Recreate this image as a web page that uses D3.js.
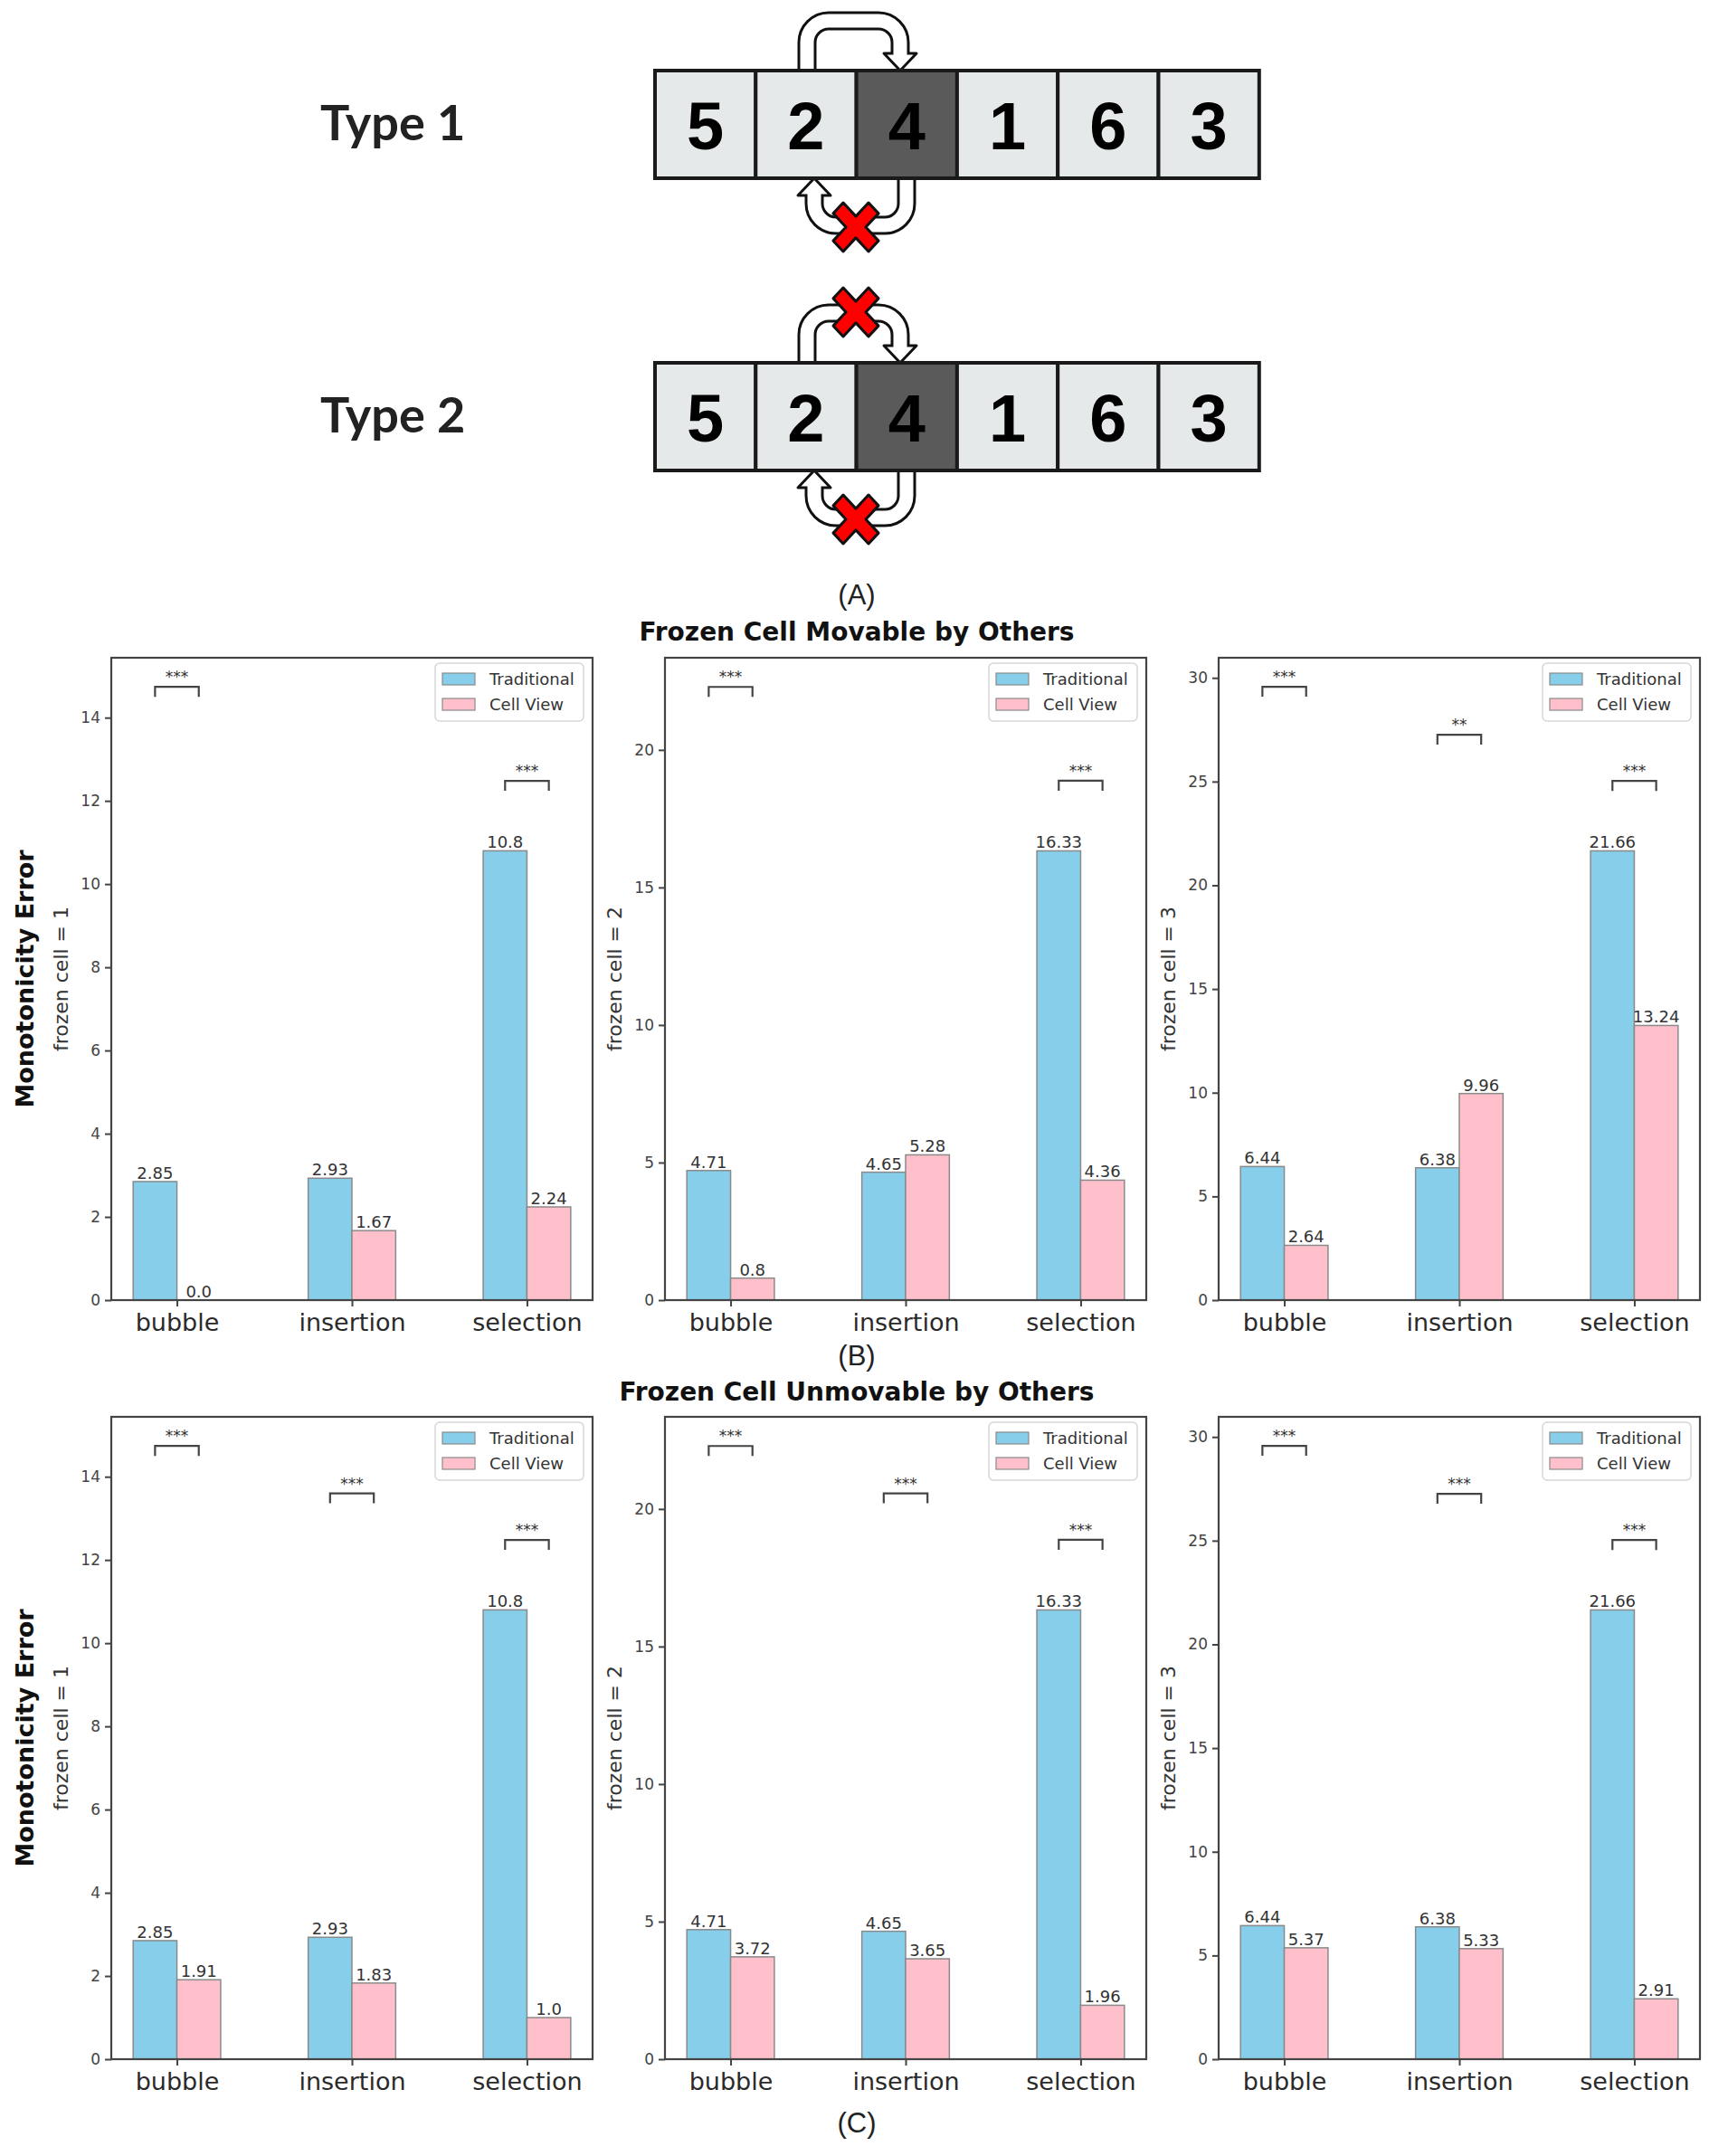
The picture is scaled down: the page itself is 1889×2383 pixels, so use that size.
<!DOCTYPE html>
<html>
<head>
<meta charset="utf-8">
<script src="https://cdn.jsdelivr.net/npm/d3@7"></script>
<style>
  body { margin: 0; background: #fff; }
  svg { display: block; }
</style>
</head>
<body>
<div id="chart"></div>
<script>
// ---- data ----
const categories = ['bubble', 'insertion', 'selection'];
const seriesNames = ['Traditional', 'Cell View'];
const seriesColors = ['#87CEEB', '#FFC0CB'];
const frozenLabels = ['frozen cell = 1', 'frozen cell = 2', 'frozen cell = 3'];

// one row per frozen cell count, one value per category
const traditional = [[2.85, 2.93, 10.8], [4.71, 4.65, 16.33], [6.44, 6.38, 21.66]];
const cellViewMovable = [[0.0, 1.67, 2.24], [0.8, 5.28, 4.36], [2.64, 9.96, 13.24]];
const cellViewUnmovable = [[1.91, 1.83, 1.0], [3.72, 3.65, 1.96], [5.37, 5.33, 2.91]];

const sigMovable = [['***', '', '***'], ['***', '', '***'], ['***', '**', '***']];
const sigUnmovable = [['***', '***', '***'], ['***', '***', '***'], ['***', '***', '***']];
const bracketMovable = [[14.74, null, 12.48], [22.29, null, 18.88], [29.57, 27.26, 25.03]];
const bracketUnmovable = [[14.74, 13.6, 12.48], [22.29, 20.57, 18.88], [29.57, 27.26, 25.03]];

const yMax = [15.44, 23.35, 30.97];
const yTicks = [[0, 2, 4, 6, 8, 10, 12, 14], [0, 5, 10, 15, 20], [0, 5, 10, 15, 20, 25, 30]];

const arrayValues = [5, 2, 4, 1, 6, 3];
const frozenIndex = 2;

// ---- page ----
const W = 1889, H = 2383;
const svg = d3.select('#chart').append('svg').attr('width', W).attr('height', H);

// ---------- (A) diagram ----------
const cellW = 111.3, boxX = 724, boxH = 119;

function arrowBand(g, d, tipX, tipY, dir) {
  // hollow arrow: black band, head, then white band on top
  g.append('path').attr('d', d).attr('fill', 'none')
    .attr('stroke', '#111').attr('stroke-width', 21);
  const hw = 18, hh = 19;
  const head = [[tipX, tipY], [tipX - hw, tipY - dir * hh], [tipX + hw, tipY - dir * hh]];
  g.append('polygon').attr('points', head.map(p => p.join(',')).join(' '))
    .attr('fill', '#fff').attr('stroke', '#111').attr('stroke-width', 3).attr('stroke-linejoin', 'round');
  g.append('path').attr('d', d).attr('fill', 'none')
    .attr('stroke', '#fff').attr('stroke-width', 15);
}

function redX(g, cx, cy) {
  const s = 25, h = 11;
  const pts = [[0, -h], [s - h, -s], [s, -s + h], [h, 0], [s, s - h], [s - h, s],
    [0, h], [-s + h, s], [-s, s - h], [-h, 0], [-s, -s + h], [-s + h, -s]];
  g.append('polygon')
    .attr('points', pts.map(p => [cx + p[0], cy + p[1] * 1.08].join(',')).join(' '))
    .attr('fill', '#ff0000').attr('stroke', '#111').attr('stroke-width', 3).attr('stroke-linejoin', 'round');
}

function drawRow(label, top, blockTop) {
  const g = svg.append('g');
  g.append('text').attr('x', 354).attr('y', top + 77)
    .style('font-family', 'Lato').style('font-weight', 700).style('font-size', '54px')
    .style('fill', '#222').text(label);

  const bottom = top + boxH;
  const xL = 892, xR = 995, r = 24;

  // top arrow (2 -> 4)
  const topY = top - 55;
  const p1 = d3.path();
  p1.moveTo(xL, top);
  p1.lineTo(xL, topY + r);
  p1.arcTo(xL, topY, xL + r, topY, r);
  p1.lineTo(xR - r, topY);
  p1.arcTo(xR, topY, xR, topY + r, r);
  p1.lineTo(xR, top - 17);
  arrowBand(g, p1.toString(), xR, top, 1);

  // bottom arrow (4 -> 2)
  const botY = bottom + 52;
  const bl = 900, br = 1002;
  const p2 = d3.path();
  p2.moveTo(br, bottom);
  p2.lineTo(br, botY - r);
  p2.arcTo(br, botY, br - r, botY, r);
  p2.lineTo(bl + r, botY);
  p2.arcTo(bl, botY, bl, botY - r, r);
  p2.lineTo(bl, bottom + 17);
  arrowBand(g, p2.toString(), bl, bottom, -1);

  // cells
  g.selectAll('rect.cell').data(arrayValues).enter().append('rect')
    .attr('class', 'cell')
    .attr('x', (d, i) => boxX + i * cellW).attr('y', top)
    .attr('width', cellW).attr('height', boxH)
    .attr('fill', (d, i) => i === frozenIndex ? '#5a5a5a' : '#e6e9ea')
    .attr('stroke', '#1a1a1a').attr('stroke-width', 4);
  g.selectAll('text.digit').data(arrayValues).enter().append('text')
    .attr('class', 'digit')
    .attr('x', (d, i) => boxX + (i + 0.5) * cellW).attr('y', top + 87)
    .attr('text-anchor', 'middle')
    .style('font-family', 'Liberation Sans').style('font-weight', 700).style('font-size', '74px')
    .style('fill', '#000').text(d => d);

  redX(g, 946, botY + 2);
  if (blockTop) redX(g, 946, topY - 1);
}

drawRow('Type 1', 78, false);
drawRow('Type 2', 401, true);

function caption(txt, y) {
  svg.append('text').attr('x', 947).attr('y', y).attr('text-anchor', 'middle')
    .style('font-family', 'Liberation Sans').style('font-size', '31px').style('fill', '#222')
    .text(txt);
}
caption('(A)', 668);

// ---------- bar panels ----------
const panelLeft = [123, 735, 1347];
const pw = 532, ph = 710;

function drawPanel(top, col, cellVals, sig, brackets) {
  const g = svg.append('g').attr('transform', `translate(${panelLeft[col]},${top})`);
  const x = d3.scaleLinear().domain([-0.375, 2.375]).range([0, pw]);
  const y = d3.scaleLinear().domain([0, yMax[col]]).range([ph, 0]);
  const bw = x(0.25) - x(0);

  const rows = categories.map((c, i) => ({ i, vals: [traditional[col][i], cellVals[col][i]] }));

  rows.forEach(r => {
    r.vals.forEach((v, s) => {
      const x0 = x(r.i - 0.25 + s * 0.25);
      g.append('rect')
        .attr('x', x0).attr('y', y(v))
        .attr('width', bw).attr('height', ph - y(v))
        .attr('fill', seriesColors[s]).attr('stroke', '#8a8a8a').attr('stroke-width', 1.5);
      g.append('text')
        .attr('x', x0 + bw / 2).attr('y', y(v) - 3)
        .attr('text-anchor', 'middle')
        .style('font-family', 'DejaVu Sans').style('font-size', '18px').style('fill', '#333')
        .text(Number.isInteger(v) ? v.toFixed(1) : String(v));
    });
  });

  // significance brackets
  categories.forEach((c, i) => {
    if (!sig[col][i]) return;
    const by = y(brackets[col][i]);
    const xa = x(i - 0.125), xb = x(i + 0.125);
    g.append('path')
      .attr('d', `M${xa},${by + 11}V${by}H${xb}V${by + 11}`)
      .attr('fill', 'none').attr('stroke', '#444').attr('stroke-width', 2.2);
    g.append('text').attr('x', (xa + xb) / 2).attr('y', by - 5)
      .attr('text-anchor', 'middle')
      .style('font-family', 'DejaVu Sans').style('font-size', '17px').style('fill', '#333')
      .text(sig[col][i]);
  });

  // axes
  const yAxis = g.append('g').call(d3.axisLeft(y).tickValues(yTicks[col]).tickSize(7).tickPadding(5));
  yAxis.selectAll('text').style('font-family', 'DejaVu Sans').style('font-size', '17px').style('fill', '#444');
  yAxis.select('.domain').remove();

  const xAxis = g.append('g').attr('transform', `translate(0,${ph})`)
    .call(d3.axisBottom(x).tickValues([0, 1, 2]).tickFormat(i => categories[i]).tickSize(7).tickPadding(8));
  xAxis.selectAll('text').style('font-family', 'DejaVu Sans').style('font-size', '27px').style('fill', '#2a2a2a');
  xAxis.select('.domain').remove();
  g.selectAll('.tick line').attr('stroke', '#444').attr('stroke-width', 2);

  g.append('rect').attr('width', pw).attr('height', ph)
    .attr('fill', 'none').attr('stroke', '#444').attr('stroke-width', 2.2);

  // legend
  const lg = g.append('g').attr('transform', `translate(${pw - 174},6)`);
  lg.append('rect').attr('width', 164).attr('height', 64).attr('rx', 5)
    .attr('fill', '#fff').attr('fill-opacity', 0.8).attr('stroke', '#d6d6d6').attr('stroke-width', 1.5);
  seriesNames.forEach((name, s) => {
    lg.append('rect').attr('x', 8).attr('y', 11 + s * 28).attr('width', 36).attr('height', 13)
      .attr('fill', seriesColors[s]).attr('stroke', '#8a8a8a').attr('stroke-width', 1.2);
    lg.append('text').attr('x', 60).attr('y', 24 + s * 28)
      .style('font-family', 'DejaVu Sans').style('font-size', '18px').style('fill', '#333')
      .text(name);
  });

  // y labels
  const cx = panelLeft[col] - 56, cy = top + ph / 2;
  svg.append('text')
    .attr('transform', `translate(${cx},${cy}) rotate(-90)`)
    .attr('text-anchor', 'middle').attr('dy', '0.35em')
    .style('font-family', 'DejaVu Sans').style('font-size', '22px').style('fill', '#333')
    .text(frozenLabels[col]);
  if (col === 0) {
    svg.append('text')
      .attr('transform', `translate(28,${cy}) rotate(-90)`)
      .attr('text-anchor', 'middle').attr('dy', '0.35em')
      .style('font-family', 'DejaVu Sans').style('font-weight', 700).style('font-size', '27px')
      .style('fill', '#111')
      .text('Monotonicity Error');
  }
}

function title(txt, y) {
  svg.append('text').attr('x', 947).attr('y', y).attr('text-anchor', 'middle')
    .style('font-family', 'DejaVu Sans').style('font-weight', 700).style('font-size', '28px')
    .style('fill', '#111').text(txt);
}

title('Frozen Cell Movable by Others', 708);
[0, 1, 2].forEach(c => drawPanel(727, c, cellViewMovable, sigMovable, bracketMovable));
caption('(B)', 1509);

title('Frozen Cell Unmovable by Others', 1548);
[0, 1, 2].forEach(c => drawPanel(1566, c, cellViewUnmovable, sigUnmovable, bracketUnmovable));
caption('(C)', 2357);
</script>
</body>
</html>
